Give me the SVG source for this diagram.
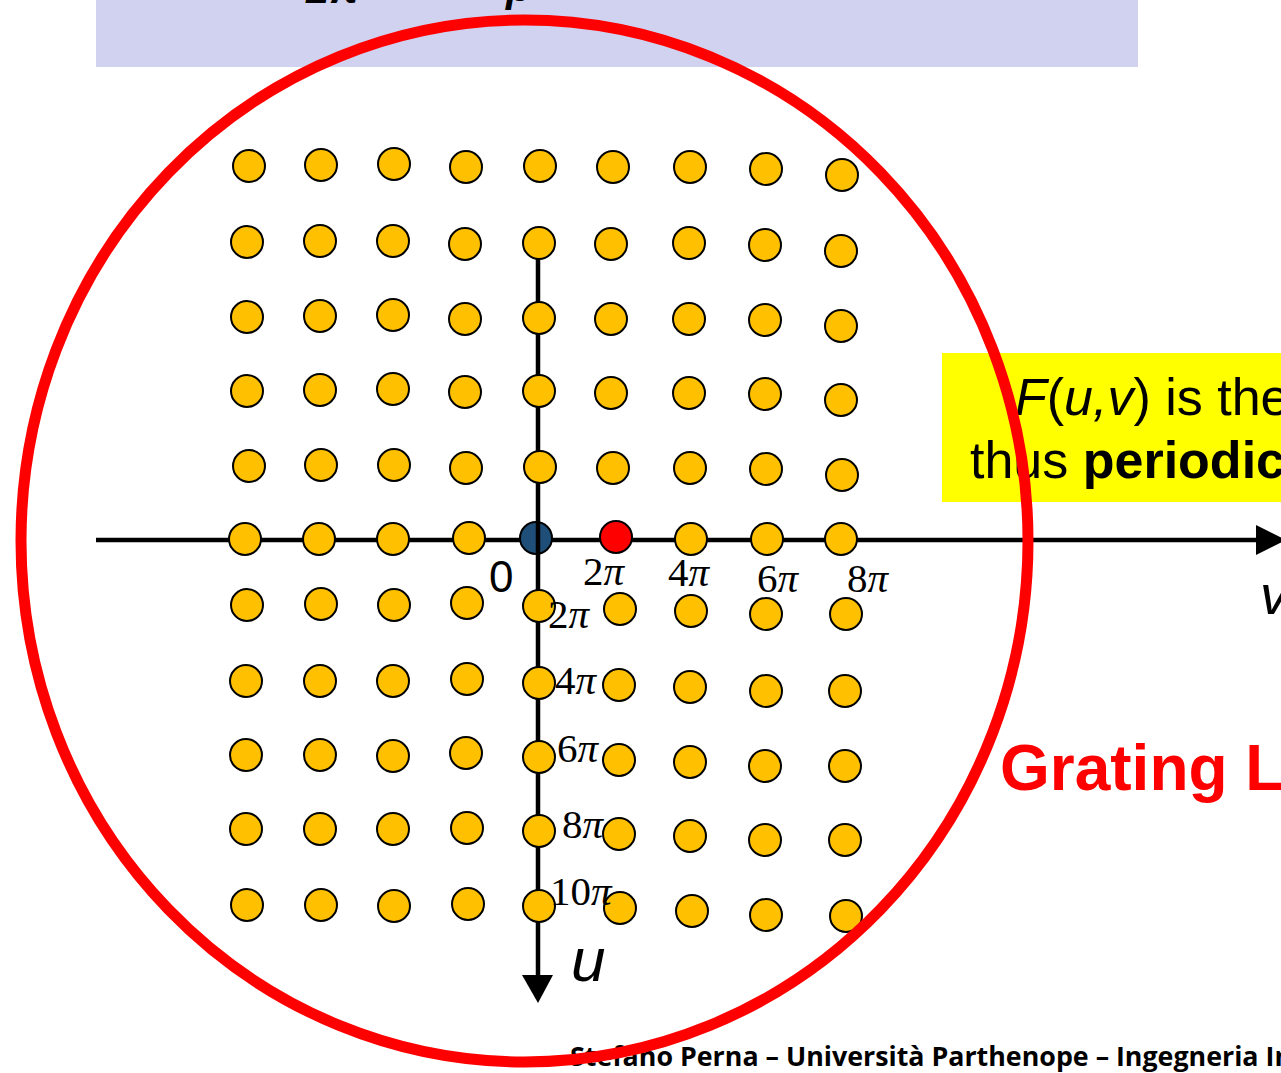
<svg xmlns="http://www.w3.org/2000/svg" width="1281" height="1073" viewBox="0 0 1281 1073">
<style>
.dot{fill:#FFC000;stroke:#000;stroke-width:2}
.lab{font-family:"Liberation Serif",serif;font-size:41px;fill:#000}
.pi{font-style:italic}
.ax{stroke:#000;stroke-width:4.5;fill:none}
.sans{font-family:"Liberation Sans",Arial,sans-serif}
</style>
<rect width="1281" height="1073" fill="#fff"/>
<g id="header">
<rect x="96" y="0" width="1042" height="67" fill="#D1D2EF"/>
<text x="306" y="3" class="sans" font-size="42" font-weight="bold" font-style="italic">2π<tspan x="506" y="1">p</tspan></text>
</g>
<g id="connectors">
<line class="ax" x1="96" y1="540" x2="1257" y2="540"/>
<path d="M1256,525 L1286,540 L1256,555 Z" fill="#000"/>
</g>
<g id="origin"><circle cx="536" cy="538" r="16" fill="#1F4E79" stroke="#000" stroke-width="2"/></g>
<g id="u-axis">
<line class="ax" x1="538" y1="243" x2="538" y2="976"/>
<path d="M522,975 L553,975 L538,1003 Z" fill="#000"/>
</g>
<g id="grid">
<circle class="dot" cx="249" cy="166" r="16"/><circle class="dot" cx="321" cy="165" r="16"/><circle class="dot" cx="394" cy="164" r="16"/><circle class="dot" cx="466" cy="167" r="16"/><circle class="dot" cx="540" cy="166" r="16"/><circle class="dot" cx="613" cy="167" r="16"/><circle class="dot" cx="690" cy="167" r="16"/><circle class="dot" cx="766" cy="169" r="16"/><circle class="dot" cx="842" cy="175" r="16"/>
<circle class="dot" cx="247" cy="242" r="16"/><circle class="dot" cx="320" cy="241" r="16"/><circle class="dot" cx="393" cy="241" r="16"/><circle class="dot" cx="465" cy="244" r="16"/><circle class="dot" cx="539" cy="243" r="16"/><circle class="dot" cx="611" cy="244" r="16"/><circle class="dot" cx="689" cy="243" r="16"/><circle class="dot" cx="765" cy="245" r="16"/><circle class="dot" cx="841" cy="251" r="16"/>
<circle class="dot" cx="247" cy="317" r="16"/><circle class="dot" cx="320" cy="316" r="16"/><circle class="dot" cx="393" cy="315" r="16"/><circle class="dot" cx="465" cy="319" r="16"/><circle class="dot" cx="539" cy="318" r="16"/><circle class="dot" cx="611" cy="319" r="16"/><circle class="dot" cx="689" cy="319" r="16"/><circle class="dot" cx="765" cy="320" r="16"/><circle class="dot" cx="841" cy="326" r="16"/>
<circle class="dot" cx="247" cy="391" r="16"/><circle class="dot" cx="320" cy="390" r="16"/><circle class="dot" cx="393" cy="389" r="16"/><circle class="dot" cx="465" cy="392" r="16"/><circle class="dot" cx="539" cy="391" r="16"/><circle class="dot" cx="611" cy="393" r="16"/><circle class="dot" cx="689" cy="393" r="16"/><circle class="dot" cx="765" cy="394" r="16"/><circle class="dot" cx="841" cy="400" r="16"/>
<circle class="dot" cx="249" cy="466" r="16"/><circle class="dot" cx="321" cy="465" r="16"/><circle class="dot" cx="394" cy="465" r="16"/><circle class="dot" cx="466" cy="468" r="16"/><circle class="dot" cx="540" cy="467" r="16"/><circle class="dot" cx="613" cy="468" r="16"/><circle class="dot" cx="690" cy="468" r="16"/><circle class="dot" cx="766" cy="469" r="16"/><circle class="dot" cx="842" cy="475" r="16"/>
<circle class="dot" cx="245" cy="539" r="16"/><circle class="dot" cx="319" cy="539" r="16"/><circle class="dot" cx="393" cy="539" r="16"/><circle class="dot" cx="469" cy="538" r="16"/><circle cx="616" cy="537" r="16" fill="#FF0000" stroke="#000" stroke-width="2"/><circle class="dot" cx="691" cy="539" r="16"/><circle class="dot" cx="767" cy="539" r="16"/><circle class="dot" cx="841" cy="539" r="16"/>
<circle class="dot" cx="247" cy="605" r="16"/><circle class="dot" cx="321" cy="604" r="16"/><circle class="dot" cx="394" cy="605" r="16"/><circle class="dot" cx="467" cy="603" r="16"/><circle class="dot" cx="539" cy="606" r="16"/><circle class="dot" cx="620" cy="609" r="16"/><circle class="dot" cx="691" cy="611" r="16"/><circle class="dot" cx="766" cy="614" r="16"/><circle class="dot" cx="846" cy="614" r="16"/>
<circle class="dot" cx="246" cy="681" r="16"/><circle class="dot" cx="320" cy="681" r="16"/><circle class="dot" cx="393" cy="681" r="16"/><circle class="dot" cx="467" cy="679" r="16"/><circle class="dot" cx="539" cy="683" r="16"/><circle class="dot" cx="619" cy="685" r="16"/><circle class="dot" cx="690" cy="687" r="16"/><circle class="dot" cx="766" cy="691" r="16"/><circle class="dot" cx="845" cy="691" r="16"/>
<circle class="dot" cx="246" cy="755" r="16"/><circle class="dot" cx="320" cy="755" r="16"/><circle class="dot" cx="393" cy="756" r="16"/><circle class="dot" cx="466" cy="753" r="16"/><circle class="dot" cx="539" cy="757" r="16"/><circle class="dot" cx="619" cy="760" r="16"/><circle class="dot" cx="690" cy="762" r="16"/><circle class="dot" cx="765" cy="766" r="16"/><circle class="dot" cx="845" cy="766" r="16"/>
<circle class="dot" cx="246" cy="829" r="16"/><circle class="dot" cx="320" cy="829" r="16"/><circle class="dot" cx="393" cy="829" r="16"/><circle class="dot" cx="467" cy="828" r="16"/><circle class="dot" cx="539" cy="831" r="16"/><circle class="dot" cx="619" cy="834" r="16"/><circle class="dot" cx="690" cy="836" r="16"/><circle class="dot" cx="765" cy="840" r="16"/><circle class="dot" cx="845" cy="840" r="16"/>
<circle class="dot" cx="247" cy="905" r="16"/><circle class="dot" cx="321" cy="905" r="16"/><circle class="dot" cx="394" cy="906" r="16"/><circle class="dot" cx="468" cy="904" r="16"/><circle class="dot" cx="539" cy="906" r="16"/><circle class="dot" cx="620" cy="908" r="16"/><circle class="dot" cx="692" cy="911" r="16"/><circle class="dot" cx="766" cy="915" r="16"/><circle class="dot" cx="846" cy="916" r="16"/>
</g>
<g id="labels">
<text x="489" y="592" class="sans" font-size="44">0</text>
<text x="583" y="585" class="lab">2<tspan class="pi">π</tspan></text>
<text x="668" y="586" class="lab">4<tspan class="pi">π</tspan></text>
<text x="757" y="592" class="lab">6<tspan class="pi">π</tspan></text>
<text x="847" y="592" class="lab">8<tspan class="pi">π</tspan></text>
<text x="548" y="628" class="lab">2<tspan class="pi">π</tspan></text>
<text x="555" y="694" class="lab">4<tspan class="pi">π</tspan></text>
<text x="557" y="762" class="lab">6<tspan class="pi">π</tspan></text>
<text x="562" y="838" class="lab">8<tspan class="pi">π</tspan></text>
<text x="550" y="905" class="lab">10<tspan class="pi">π</tspan></text>
<text x="571" y="981" class="sans" font-size="62" font-style="italic">u</text>
<text x="1260" y="614" class="sans" font-size="56" font-style="italic">v</text>
</g>
<g id="note">
<rect x="942" y="353" width="345" height="149" fill="#FFFF00"/>
<text x="1015" y="415" class="sans" font-size="52"><tspan font-style="italic">F</tspan>(<tspan font-style="italic">u,v</tspan>) is the</text>
<text x="970" y="478" class="sans" font-size="52">thus <tspan font-weight="bold">periodic</tspan></text>
</g>
<g id="grating">
<text x="1000" y="790" class="sans" font-size="64" font-weight="bold" fill="#FF0000">Grating L</text>
</g>
<g id="footer">
<text x="570" y="1066" font-family="'Open Sans','Liberation Sans',sans-serif" font-size="26" font-weight="bold" textLength="722" lengthAdjust="spacingAndGlyphs">Stefano Perna – Università Parthenope – Ingegneria In</text>
</g>
<g id="circle">
<ellipse cx="524.5" cy="541" rx="503.5" ry="521" fill="none" stroke="#FF0000" stroke-width="11"/>
</g>
</svg>
